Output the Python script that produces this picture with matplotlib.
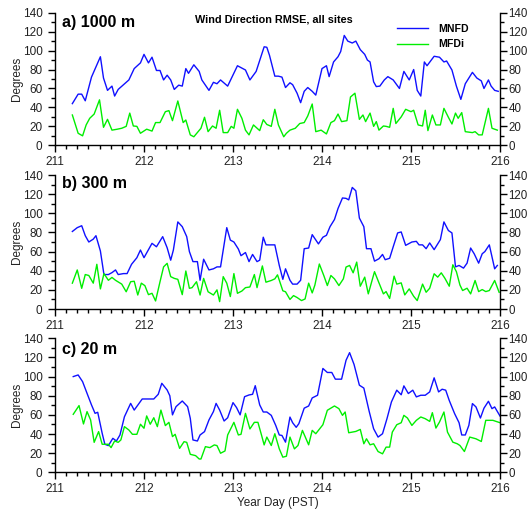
import matplotlib
matplotlib.use("Agg")
import matplotlib.pyplot as plt
from matplotlib.ticker import MultipleLocator

plt.rcParams['font.family'] = ['Liberation Sans', 'DejaVu Sans']

# ---------------- data ----------------
a_mnfd_day = [211.195, 211.26, 211.30, 211.34, 211.41, 211.51, 211.545, 211.59, 211.64, 211.67, 211.71, 211.83,
              211.89, 211.96, 212.0, 212.05, 212.09, 212.14, 212.18, 212.22, 212.26, 212.30, 212.34, 212.39,
              212.43, 212.47, 212.50, 212.56, 212.62, 212.65, 212.73, 212.78, 212.82, 212.86, 212.94, 213.05,
              213.14, 213.19, 213.26, 213.35, 213.38, 213.41, 213.47, 213.51, 213.55, 213.59, 213.64, 213.67,
              213.72, 213.76, 213.80, 213.84, 213.89, 213.93, 214.0, 214.05, 214.08, 214.13, 214.18, 214.21,
              214.25, 214.29, 214.34, 214.38, 214.43, 214.48, 214.51, 214.54, 214.58, 214.61, 214.65, 214.70,
              214.74, 214.80, 214.87, 214.92, 214.98, 215.03, 215.07, 215.11, 215.15, 215.18, 215.26, 215.32,
              215.37, 215.40, 215.46, 215.51, 215.56, 215.61, 215.69, 215.74, 215.79, 215.82, 215.87, 215.90,
              215.94, 215.98]
a_mnfd_val = [44, 54, 54, 47, 72, 93.5, 71, 58, 62.5, 52, 59, 69,
              81, 87, 96, 87, 93, 79, 79, 69, 74, 69, 59, 63.5,
              62.5, 81, 76, 85, 78, 69, 58, 66.5, 65, 69, 62.5, 84,
              79.5, 69, 78, 104, 103.5, 95, 73, 73, 72, 61, 66, 64,
              55, 45, 57, 61, 57, 53, 81, 84, 72.5, 88, 93.5, 99,
              116, 110, 108, 110, 101, 96, 90, 88, 67, 62, 62.5, 69,
              72.5, 69, 60, 78, 69, 80, 58, 52, 88, 84, 94, 93,
              88, 89, 79.5, 62.5, 48.5, 65, 77, 71, 68, 60, 69, 62.5,
              58, 57]

a_mfdi_day = [211.195, 211.26, 211.31, 211.35, 211.39, 211.44, 211.50, 211.545, 211.59, 211.64, 211.70, 211.75,
              211.80, 211.84, 211.88, 211.92, 211.96, 212.03, 212.09, 212.13, 212.18, 212.24, 212.28, 212.32,
              212.38, 212.44, 212.47, 212.52, 212.56, 212.64, 212.68, 212.72, 212.77, 212.81, 212.85, 212.89,
              212.94, 212.98, 213.01, 213.05, 213.10, 213.14, 213.18, 213.23, 213.30, 213.34, 213.38, 213.43,
              213.47, 213.51, 213.57, 213.60, 213.64, 213.70, 213.75, 213.80, 213.84, 213.89, 213.93, 213.99,
              214.05, 214.10, 214.14, 214.18, 214.22, 214.28, 214.32, 214.37, 214.42, 214.46, 214.49, 214.54,
              214.58, 214.61, 214.64, 214.69, 214.72, 214.76, 214.80, 214.83, 214.89, 214.94, 215.00, 215.03,
              215.08, 215.13, 215.16, 215.19, 215.24, 215.28, 215.33, 215.37, 215.42, 215.46, 215.50, 215.53,
              215.57, 215.61, 215.69, 215.72, 215.76, 215.80, 215.87, 215.91, 215.97]
a_mfdi_val = [32, 12.7, 10, 21.5, 28.5, 33, 48, 19, 27.4, 16, 17, 18,
              20, 34, 20.4, 20, 12.7, 17, 15, 24, 24, 35.5, 36.6, 26,
              46.8, 24, 26.7, 11, 9, 18, 29.6, 14.4, 20.4, 18, 37, 13.4,
              13.4, 20, 18, 38, 28.5, 16, 11, 21.5, 15.5, 27, 22, 20,
              38, 21.5, 9, 12.7, 16, 18, 23, 24, 31, 43.6, 14.4, 16,
              12, 24, 26, 33, 25, 26, 51, 55, 27.4, 32, 25, 34,
              20, 25, 16, 20.4, 20, 19, 39, 23, 30, 38, 35.5, 37,
              21.5, 20.4, 37, 15.5, 32, 21.5, 21.5, 39, 29.6, 22.5, 34, 28.5,
              34.5, 14.4, 13.4, 14.4, 11, 11, 39, 18, 16]

b_mnfd_day = [211.195, 211.25, 211.30, 211.34, 211.38, 211.43, 211.46, 211.51, 211.55, 211.60, 211.64, 211.68,
              211.71, 211.77, 211.81, 211.86, 211.92, 211.96, 212.0, 212.09, 212.14, 212.21, 212.26, 212.30,
              212.33, 212.38, 212.43, 212.48, 212.51, 212.55, 212.60, 212.63, 212.67, 212.73, 212.78, 212.82,
              212.86, 212.93, 212.97, 213.01, 213.06, 213.09, 213.14, 213.18, 213.22, 213.27, 213.30, 213.34,
              213.37, 213.47, 213.52, 213.56, 213.59, 213.64, 213.67, 213.72, 213.76, 213.80, 213.85, 213.89,
              213.96, 214.01, 214.05, 214.09, 214.14, 214.18, 214.23, 214.27, 214.30, 214.34, 214.38, 214.42,
              214.47, 214.50, 214.55, 214.59, 214.64, 214.68, 214.71, 214.76, 214.80, 214.85, 214.89, 214.94,
              215.01, 215.06, 215.09, 215.13, 215.17, 215.21, 215.26, 215.33, 215.37, 215.42, 215.46, 215.50,
              215.54, 215.59, 215.63, 215.67, 215.71, 215.76, 215.80, 215.83, 215.88, 215.94, 215.97]
b_mnfd_val = [81, 85, 87, 76.6, 70, 73, 76.6, 60.6, 36, 36, 38, 40.8,
              36, 37, 37, 46.7, 53.6, 61.6, 53.6, 68.6, 65, 75.6, 64, 51,
              61.6, 91, 86, 75.6, 60, 49.5, 49.5, 30, 52, 40.8, 42, 44,
              44, 85, 72, 70, 62.7, 55.7, 59, 49.5, 57, 49.5, 51, 75,
              67, 67, 45.5, 31, 42, 30, 26, 26, 30, 63, 63.7, 77.7,
              68, 75, 77, 86, 93.5, 105, 116, 115.6, 114, 127, 123.5, 95,
              86, 63, 63, 50, 52.5, 57, 51.5, 53, 65, 79.5, 80.5, 66.5,
              70, 70.7, 67, 67, 63, 69, 62, 72.5, 91, 82, 79.5, 44,
              45.5, 42.7, 47.9, 63.7, 57.7, 47.9, 57.7, 60, 67, 42, 45.5]

b_mfdi_day = [211.195, 211.25, 211.30, 211.34, 211.38, 211.43, 211.47, 211.51, 211.55, 211.60, 211.64, 211.68,
              211.75, 211.80, 211.85, 211.89, 211.93, 211.97, 212.01, 212.05, 212.09, 212.13, 212.18, 212.22,
              212.26, 212.30, 212.34, 212.38, 212.43, 212.47, 212.51, 212.54, 212.59, 212.63, 212.67, 212.72,
              212.78, 212.82, 212.85, 212.89, 212.93, 212.97, 213.01, 213.05, 213.10, 213.14, 213.19, 213.24,
              213.27, 213.33, 213.37, 213.43, 213.47, 213.50, 213.56, 213.59, 213.64, 213.68, 213.72, 213.77,
              213.81, 213.85, 213.89, 213.92, 213.97, 214.02, 214.06, 214.10, 214.14, 214.19, 214.24, 214.27,
              214.31, 214.35, 214.39, 214.43, 214.48, 214.52, 214.59, 214.64, 214.69, 214.72, 214.76, 214.81,
              214.84, 214.89, 214.93, 214.98, 215.03, 215.07, 215.13, 215.17, 215.21, 215.26, 215.30, 215.34,
              215.38, 215.43, 215.47, 215.51, 215.55, 215.58, 215.63, 215.67, 215.72, 215.76, 215.80, 215.84,
              215.88, 215.94, 215.99]
b_mfdi_val = [27, 40.8, 21.6, 36, 35, 27, 46.7, 21, 37, 30, 33, 30,
              26, 18, 28.5, 29, 14.6, 27, 24.4, 15, 16.4, 8.4, 28.5, 44,
              47.7, 33.8, 32, 31, 15, 39.7, 21.6, 22.3, 28.5, 14.6, 32, 18,
              14.6, 20, 7.7, 33.8, 27, 13, 37, 16.4, 18.8, 22.3, 23, 36,
              22.3, 45, 28, 29.8, 31.5, 35.7, 19, 18, 10, 14, 12, 8.8,
              10.5, 27, 16.8, 25, 47, 35, 24.5, 35, 31.5, 24.5, 31.5, 43.8,
              45.5, 37.8, 49, 23.8, 33.3, 15.8, 39, 27.3, 15.8, 18.2, 11, 34.3,
              26, 27.3, 14.7, 21, 13.3, 8.8, 26, 17.5, 21.7, 36.8, 33.3, 37.8,
              32.2, 23.8, 46.2, 39, 25, 19.3, 21.7, 15.8, 29.8, 18.2, 20.3, 18.2,
              19.3, 29.8, 17.5]

c_mnfd_day = [211.205, 211.26, 211.31, 211.36, 211.41, 211.45, 211.48, 211.53, 211.56, 211.60, 211.65, 211.69,
              211.73, 211.78, 211.85, 211.89, 211.98, 212.11, 212.16, 212.20, 212.26, 212.29, 212.32, 212.36,
              212.43, 212.49, 212.52, 212.55, 212.60, 212.63, 212.68, 212.73, 212.78, 212.81, 212.85, 212.90,
              212.94, 213.00, 213.04, 213.08, 213.13, 213.18, 213.22, 213.25, 213.30, 213.34, 213.38, 213.43,
              213.48, 213.52, 213.55, 213.59, 213.64, 213.67, 213.71, 213.74, 213.80, 213.85, 213.89, 213.95,
              214.01, 214.06, 214.11, 214.15, 214.22, 214.27, 214.31, 214.36, 214.42, 214.47, 214.53, 214.58,
              214.63, 214.68, 214.73, 214.78, 214.84, 214.89, 214.92, 214.97, 215.02, 215.06, 215.11, 215.16,
              215.21, 215.26, 215.31, 215.35, 215.39, 215.43, 215.49, 215.54, 215.57, 215.61, 215.65, 215.69,
              215.73, 215.78, 215.82, 215.87, 215.91, 215.94, 216.0]
c_mnfd_val = [100, 101.7, 94.7, 82.5, 70.4, 61.6, 62.7, 40.8, 29.3, 27.9, 35.5, 32.7,
              39, 58, 72, 65, 76.6, 76.6, 81.5, 93, 86, 80, 60, 68.6,
              74.5, 68.6, 56.4, 33.8, 32.7, 39, 42.5, 54.7, 63.4, 72, 65, 53.6,
              57, 72.8, 67.6, 60, 79, 80.8, 81.5, 90.5, 70.4, 63, 63, 59.5,
              49, 39, 38.5, 31.5, 57.7, 51.8, 47, 50.8, 67, 69.3, 77.7, 80.5,
              108.5, 104.3, 104.3, 97.3, 97.3, 117, 125, 112.7, 91, 88, 63.7, 45.5,
              36.8, 40.3, 56, 73.5, 85.8, 81, 90.3, 82.3, 85.8, 78.8, 80.5, 80.5,
              84, 98.7, 84, 86.8, 85.8, 75, 61.3, 51.8, 39, 39, 49, 71.8,
              68.3, 56.7, 67, 74.2, 66.5, 68.3, 58.8]

c_mfdi_day = [211.205, 211.27, 211.32, 211.36, 211.40, 211.44, 211.49, 211.53, 211.60, 211.63, 211.67, 211.71,
              211.74, 211.78, 211.83, 211.87, 211.92, 211.96, 212.0, 212.03, 212.07, 212.11, 212.15, 212.19,
              212.24, 212.28, 212.32, 212.35, 212.40, 212.45, 212.48, 212.52, 212.58, 212.62, 212.64, 212.69,
              212.74, 212.79, 212.82, 212.86, 212.91, 212.94, 213.01, 213.06, 213.09, 213.14, 213.19, 213.24,
              213.28, 213.32, 213.35, 213.38, 213.43, 213.47, 213.52, 213.56, 213.60, 213.64, 213.69, 213.73,
              213.78, 213.85, 213.89, 213.93, 214.01, 214.06, 214.14, 214.19, 214.23, 214.26, 214.30, 214.38,
              214.43, 214.47, 214.50, 214.54, 214.58, 214.63, 214.68, 214.72, 214.76, 214.79, 214.84, 214.89,
              214.92, 214.96, 215.01, 215.06, 215.11, 215.16, 215.21, 215.24, 215.28, 215.32, 215.37, 215.41,
              215.47, 215.52, 215.55, 215.60, 215.66, 215.73, 215.79, 215.84, 215.92, 216.0]
c_mfdi_val = [60.6, 69.7, 50.5, 63.4, 54.7, 31.3, 42.5, 29.3, 29.3, 25.8, 32.7, 31.3,
              33.8, 47.7, 44.2, 39.7, 39.7, 50.2, 46, 58.9, 50.2, 57, 47.7, 65,
              48.8, 52.2, 37.3, 39.7, 25, 32, 31.3, 18.8, 17.4, 13.9, 13.9, 26.8,
              25.8, 28.6, 27.9, 19.9, 22.3, 39, 52.2, 39, 39.7, 61.6, 45.3, 52.2,
              52.2, 39, 28.6, 36.8, 28, 40.3, 24.5, 15.8, 16.8, 36.8, 24.5, 28,
              43.8, 28.7, 43.8, 40.3, 49.7, 64.8, 69.3, 66.5, 59.5, 63, 41.3, 42.7,
              44.8, 29.8, 35, 28.7, 29.8, 21.7, 19.3, 26.3, 26.3, 42, 49.7, 51.8,
              59.5, 56.7, 49, 54.3, 57.8, 56, 53.2, 62.3, 46.2, 52.5, 63, 42,
              31.5, 29.8, 28, 21.7, 36.8, 35, 32.2, 54.3, 54.3, 51.8]

panel_labels = ['a) 1000 m', 'b) 300 m', 'c) 20 m']
series_names = ['MNFD', 'MFDi']
title_text = 'Wind Direction RMSE, all sites'
x_ticks = [211, 212, 213, 214, 215, 216]
y_ticks = [0, 20, 40, 60, 80, 100, 120, 140]

panels = [
    (a_mnfd_day, a_mnfd_val, a_mfdi_day, a_mfdi_val),
    (b_mnfd_day, b_mnfd_val, b_mfdi_day, b_mfdi_val),
    (c_mnfd_day, c_mnfd_val, c_mfdi_day, c_mfdi_val),
]

# ---------------- figure ----------------
W, H = 527, 512
fig = plt.figure(figsize=(W / 100, H / 100), dpi=100)
fig.patch.set_facecolor('white')

# panel rectangles in pixels: (left, top, right, bottom)
rects = [(55, 12.7, 500, 145.3), (55, 175, 500, 309), (55, 338.3, 500, 472.3)]
label_centers_px = [21.2, 181.7, 348.3]
blue = '#1010ff'
green = '#00ee00'
tick_color = '#222222'

for i, ((bd, bv, gd, gv), (l, t, r, b)) in enumerate(zip(panels, rects)):
    ax = fig.add_axes([l / W, 1 - b / H, (r - l) / W, (b - t) / H])
    ax.plot(bd, bv, color=blue, lw=1.0, label=series_names[0])
    ax.plot(gd, gv, color=green, lw=1.0, label=series_names[1])
    ax.set_xlim(211, 216)
    ax.set_ylim(0, 140)
    ax.set_xticks(x_ticks)
    ax.set_yticks(y_ticks)
    ax.xaxis.set_minor_locator(MultipleLocator(0.125))
    ax.yaxis.set_minor_locator(MultipleLocator(10))
    ax.spines['top'].set_visible(False)
    ax.spines['right'].set_visible(False)
    for s in ['left', 'bottom']:
        ax.spines[s].set_linewidth(1.0)
        ax.spines[s].set_color('black')
    ax.tick_params(which='both', direction='out', colors='black', labelcolor=tick_color,
                   labelsize=8.5, width=1.0)
    ax.tick_params(which='major', length=5, pad=4)
    ax.tick_params(which='minor', length=3)
    ax.tick_params(axis='x', which='major', pad=3)
    ax.set_ylabel('Degrees', fontsize=8.5, color=tick_color, labelpad=-0.5)
    ax.patch.set_alpha(0)

    # right-hand axis with its own tick labels
    axr = ax.twinx()
    axr.set_ylim(0, 140)
    axr.set_yticks(y_ticks)
    axr.yaxis.set_minor_locator(MultipleLocator(10))
    for s in ['top', 'left', 'bottom']:
        axr.spines[s].set_visible(False)
    axr.spines['right'].set_linewidth(1.0)
    axr.tick_params(which='both', direction='out', colors='black', labelcolor=tick_color,
                    labelsize=8.3, width=1.0)
    axr.tick_params(which='major', length=5, pad=1)
    axr.tick_params(which='minor', length=3)

    yfrac = 1 - (label_centers_px[i] - t) / (b - t)
    ax.text(0.016, yfrac, panel_labels[i], transform=ax.transAxes, fontsize=11.5,
            fontweight='bold', ha='left', va='center_baseline', color='black')
    if i == 0:
        ax.text(0.492, 1 - (18.7 - t) / (b - t), title_text, transform=ax.transAxes,
                fontsize=7.8, fontweight='bold', ha='center', va='center_baseline', color='black')
        leg = ax.legend(loc='upper left', bbox_to_anchor=(397 / W, 1 - 24 / H),
                        bbox_transform=fig.transFigure, frameon=False, fontsize=7.6,
                        handlelength=2.9, handletextpad=1.0, labelspacing=0.5,
                        borderpad=0, borderaxespad=0)
        for txt in leg.get_texts():
            txt.set_fontweight('bold')
    if i == 2:
        ax.set_xlabel('Year Day (PST)', fontsize=8.5, color=tick_color, labelpad=1)

fig.savefig('out.png', dpi=100, facecolor='white')
